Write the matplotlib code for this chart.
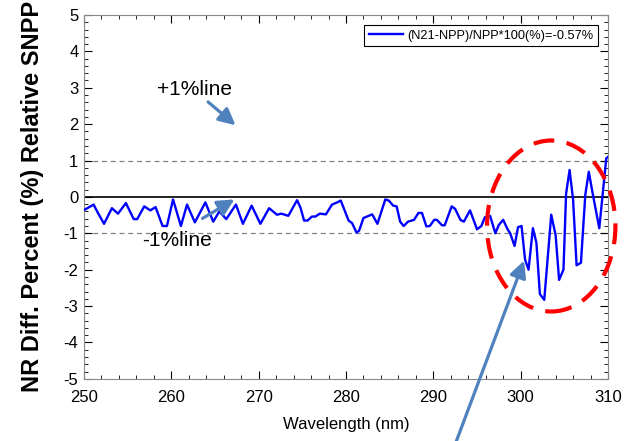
import matplotlib.pyplot as plt
from matplotlib.patches import Ellipse
from matplotlib.ticker import MultipleLocator

plt.rcParams['font.family'] = ['Liberation Sans', 'DejaVu Sans']
plt.rcParams['axes.unicode_minus'] = False

# wavelength (nm) and relative difference (%)
wavelength = [250.1, 251.1, 251.6, 252.3, 253.2, 253.9, 254.8, 255.7, 256.1, 256.9,
              257.6, 258.2, 259.0, 259.5, 260.2, 261.1, 261.8, 262.7, 263.9, 264.8,
              265.5, 266.3, 267.4, 268.2, 269.2, 270.2, 271.2, 272.1, 272.6, 273.4,
              274.4, 274.8, 275.2, 275.6, 276.1, 276.5, 277.0, 277.7, 278.4, 279.0,
              279.4, 280.3, 280.7, 281.2, 281.5, 282.0, 283.0, 283.6, 284.5, 284.9,
              285.4, 285.8, 286.2, 286.6, 287.1, 287.8, 288.3, 288.7, 289.2, 289.6,
              290.1, 290.4, 291.0, 291.3, 292.1, 292.5, 293.1, 293.5, 294.2, 295.0,
              295.5, 295.9, 296.5, 297.1, 297.5, 298.0, 298.5, 298.8, 299.3, 299.7,
              300.1, 300.5, 300.9, 301.4, 301.8, 302.2, 302.7, 303.5, 304.0, 304.4,
              304.9, 305.2, 305.6, 306.0, 306.4, 306.9, 307.4, 307.8, 308.3, 309.0,
              309.8, 310.0]
diff_pct = [-0.35, -0.21, -0.44, -0.74, -0.31, -0.46, -0.17, -0.61, -0.61, -0.26,
            -0.37, -0.28, -0.80, -0.80, -0.07, -0.80, -0.21, -0.70, -0.15, -0.68,
            -0.40, -0.61, -0.21, -0.74, -0.24, -0.74, -0.31, -0.49, -0.46, -0.52,
            -0.09, -0.30, -0.65, -0.65, -0.54, -0.54, -0.46, -0.48, -0.21, -0.15,
            -0.10, -0.65, -0.72, -0.98, -0.93, -0.58, -0.48, -0.74, -0.07, -0.10,
            -0.24, -0.26, -0.68, -0.80, -0.68, -0.63, -0.44, -0.44, -0.81, -0.80,
            -0.63, -0.63, -0.78, -0.78, -0.26, -0.33, -0.63, -0.68, -0.37, -0.89,
            -0.80, -0.56, -0.52, -1.00, -0.77, -0.63, -0.89, -1.00, -1.35, -0.83,
            -0.80, -1.72, -2.00, -0.86, -1.26, -2.67, -2.83, -0.49, -1.05, -2.28,
            -2.00, 0.09, 0.74, -0.07, -1.88, -1.81, 0.06, 0.69, 0.02, -0.86,
            1.06, 1.10]

legend_label = '(N21-NPP)/NPP*100(%)=-0.57%'
arrow_blue = '#4F81BD'

fig = plt.figure(figsize=(6.36, 4.41), dpi=100)
ax = fig.add_axes([0.132, 0.141, 0.824, 0.825])

ax.axhline(0, color='black', lw=1.2, zorder=1)
ax.axhline(1, color='gray', lw=0.9, ls=(0, (4, 3)), zorder=1)
ax.axhline(-1, color='gray', lw=0.9, ls=(0, (4, 3)), zorder=1)
ax.plot(wavelength, diff_pct, color='#0000ff', lw=1.7, label=legend_label, zorder=3)

ax.set_xlim(250, 310)
ax.set_ylim(-5, 5)
ax.xaxis.set_major_locator(MultipleLocator(10))
ax.xaxis.set_minor_locator(MultipleLocator(2))
ax.yaxis.set_major_locator(MultipleLocator(1))
ax.yaxis.set_minor_locator(MultipleLocator(0.2))
ax.tick_params(which='both', direction='in', top=True, right=True, colors='black',
               labelsize=12)
ax.tick_params(axis='x', pad=8)
ax.tick_params(axis='y', pad=4)
ax.tick_params(which='major', length=6)
ax.tick_params(which='minor', length=3)
for s in ax.spines.values():
    s.set_color('#888888')

ax.set_xlabel('Wavelength (nm)', fontsize=12, labelpad=9)
ax.set_ylabel('NR Diff. Percent (%) Relative SNPP', fontsize=17, fontweight='bold',
              labelpad=14)

leg = ax.legend(loc='upper right', fontsize=9.2, handlelength=2.7, fancybox=False,
                borderaxespad=0.8, framealpha=1, handletextpad=0.3, borderpad=0.35)
leg.get_frame().set_edgecolor('black')
leg.get_frame().set_linewidth(0.8)

ax.text(262.7, 2.94, '+1%line', fontsize=15, ha='center', va='center')
ax.text(260.6, -1.21, '-1%line', fontsize=15, ha='center', va='center')
ax.annotate('', xy=(267.6, 1.92), xytext=(263.97, 2.66),
            arrowprops=dict(arrowstyle='-|>', color=arrow_blue, lw=2.3, mutation_scale=25))
ax.annotate('', xy=(267.5, -0.03), xytext=(263.3, -0.63),
            arrowprops=dict(arrowstyle='-|>', color=arrow_blue, lw=2.3, mutation_scale=25))
ax.annotate('', xy=(300.5, -1.68), xytext=(292.5, -6.8), annotation_clip=False,
            arrowprops=dict(arrowstyle='-|>', color=arrow_blue, lw=2.3, mutation_scale=25))

ell = Ellipse((303.5, -0.8), 14.7, 4.7, fill=False, edgecolor='red', lw=3,
              ls=(0, (5, 3)), clip_on=False, zorder=4)
ax.add_patch(ell)

fig.savefig('out.png', dpi=100)
